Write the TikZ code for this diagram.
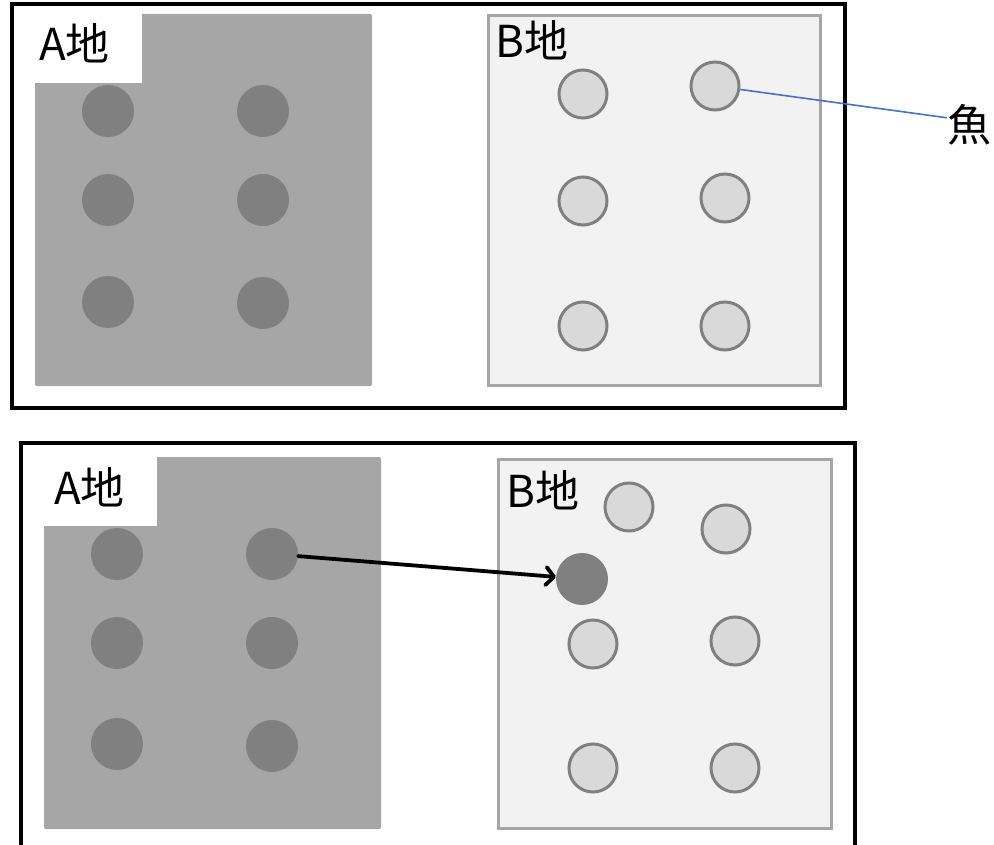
\documentclass[tikz,border=0pt]{standalone}
\usepackage{fontspec}
\setmainfont{Noto Sans CJK JP}
\usetikzlibrary{arrows.meta}
\definecolor{landA}{HTML}{A6A6A6}
\definecolor{landB}{HTML}{F2F2F2}
\definecolor{landBedge}{HTML}{A6A6A6}
\definecolor{fishdark}{HTML}{808080}
\definecolor{fishlight}{HTML}{D9D9D9}
\definecolor{pointer}{HTML}{4472C4}
\tikzset{
  panel/.style={draw=black, line width=4pt},
  pondA/.style={fill=landA, rounded corners=1.5pt},
  pondB/.style={fill=landB, draw=landBedge, line width=3pt},
  notch/.style={fill=white},
  fishA/.style={circle, fill=fishdark, minimum size=52pt, inner sep=0pt},
  fishB/.style={circle, fill=fishlight, draw=fishdark, line width=3pt, minimum size=48pt, inner sep=0pt},
  placename/.style={anchor=base west, inner sep=0pt, font=\fontsize{44}{48}\selectfont},
  move/.style={line width=3.8pt, line cap=round, -{Straight Barb[length=8pt, width=18pt, line width=3.8pt, round]}},
  callout/.style={draw=pointer, line width=1.6pt}
}
\begin{document}
\begin{tikzpicture}[x=1pt, y=-1pt]
\useasboundingbox (0,0) rectangle (994,845);

% ---------- upper panel ----------
\draw[panel] (12,4) rectangle (845,408);
\fill[pondA] (35,14) rectangle (372,386);
\fill[notch] (33,12) rectangle (142,83);
\node[placename] (tA) at (39,61) {A地};
\filldraw[pondB] (488,16) rectangle (820,385);
\node[placename] (tB) at (495,58) {B地};

\node[fishA] (ua1) at (108,111) {};
\node[fishA] (ua2) at (263,111) {};
\node[fishA] (ua3) at (108,200) {};
\node[fishA] (ua4) at (263,200) {};
\node[fishA] (ua5) at (108,302) {};
\node[fishA] (ua6) at (263,303) {};

\node[fishB] (ub1) at (583,94) {};
\node[fishB] (ub2) at (715,86) {};
\node[fishB] (ub3) at (583,201) {};
\node[fishB] (ub4) at (725,198) {};
\node[fishB] (ub5) at (583,326) {};
\node[fishB] (ub6) at (725,326) {};

\node[inner sep=0pt, font=\fontsize{44}{48}\selectfont] (fl) at (969,125) {魚};
\draw[callout] (ub2) -- (fl.162);

% ---------- lower panel ----------
\draw[panel] (21,443) rectangle (855,870);
\fill[pondA] (44,457) rectangle (381,829);
\fill[notch] (42,455) rectangle (157,526);
\node[placename] (lA) at (54,504) {A地};
\filldraw[pondB] (498,459) rectangle (831,828);
\node[placename] (lB) at (506,507) {B地};

\node[fishA] (la1) at (117,554) {};
\node[fishA] (la2) at (272,554) {};
\node[fishA] (la3) at (117,643) {};
\node[fishA] (la4) at (272,643) {};
\node[fishA] (la5) at (117,744) {};
\node[fishA] (la6) at (272,746) {};

\node[fishB] (lb1) at (629,507) {};
\node[fishB] (lb2) at (726,529) {};
\node[fishB] (lb3) at (593,644) {};
\node[fishB] (lb4) at (735,641) {};
\node[fishB] (lb5) at (593,768) {};
\node[fishB] (lb6) at (735,768) {};

\node[fishA] (moved) at (582,579) {};
\draw[move] (la2) -- (moved);
\end{tikzpicture}
\end{document}
